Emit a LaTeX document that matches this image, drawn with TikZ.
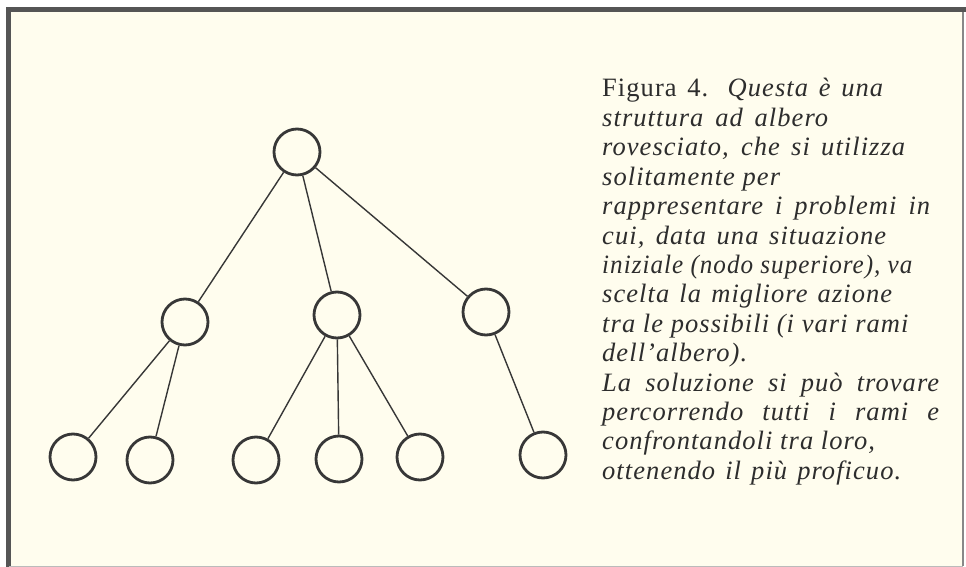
\documentclass[tikz,border=0pt]{standalone}
\usepackage{fontspec}
\usepackage{graphicx}
\setmainfont{Liberation Serif}
\definecolor{cream}{RGB}{255,253,238}
\definecolor{ink}{RGB}{55,55,55}
\definecolor{textc}{RGB}{45,45,45}
\definecolor{framec}{RGB}{85,85,85}
\begin{document}
\begin{tikzpicture}[x=1pt,y=-1pt,
  nd/.style={circle,draw=ink,line width=2.8pt,minimum size=46pt,inner sep=0pt,fill=cream},
  ln/.style={draw=ink,line width=1.4pt},
  tl/.style={anchor=base west,inner sep=0pt,text=textc,font=\fontsize{26.5}{29}\selectfont\itshape\addfontfeatures{LetterSpace=4}}]
\useasboundingbox (0,0) rectangle (966,567);
\fill[white] (0,0) rectangle (966,567);
\fill[cream] (9,10) rectangle (963,566);
\draw[framec,line width=5pt] (8.5,567) -- (8.5,9.5) -- (966,9.5);
\draw[framec!70,line width=1.5pt] (963,12) -- (963,566);
\draw[framec!40,line width=1pt] (9,566) -- (963,566);
% nodes
\node[nd] (r) at (297,152) {};
\node[nd] (a) at (185,322) {};
\node[nd] (b) at (337,315) {};
\node[nd] (c) at (486,312) {};
\node[nd] (a1) at (73,457) {};
\node[nd] (a2) at (150,460) {};
\node[nd] (b1) at (256,460) {};
\node[nd] (b2) at (339,459) {};
\node[nd] (b3) at (420,457) {};
\node[nd] (c1) at (543,455) {};
\foreach \p/\q in {r/a,r/b,r/c,a/a1,a/a2,b/b1,b/b2,b/b3,c/c1}
  \draw[ln] (\p) -- (\q);
% text
\node[tl] (t1) at (602,97) {\makebox[281pt][s]{\upshape Figura 4. \itshape Questa è una}};
\node[tl] (t2) at (602,126.4) {\makebox[226pt][s]{struttura ad albero}};
\node[tl] (t3) at (602,155.8) {\makebox[303pt][s]{rovesciato, che si utilizza}};
\node[tl] (t4) at (602,185.2) {solitamente per};
\node[tl] (t5) at (602,214.6) {\makebox[328pt][s]{rappresentare i problemi in}};
\node[tl] (t6) at (602,244) {\makebox[284pt][s]{cui, data una situazione}};
\node[tl] (t7) at (602,273.4) {\scalebox{0.948}[1]{iniziale (nodo superiore), va}};
\node[tl] (t8) at (602,302.8) {\makebox[290pt][s]{scelta la migliore azione}};
\node[tl] (t9) at (602,332.2) {tra le possibili (i vari rami};
\node[tl] (t10) at (602,361.6) {dell'albero).};
\node[tl] (t11) at (602,391) {\makebox[337pt][s]{La soluzione si può trovare}};
\node[tl] (t12) at (602,420.4) {\makebox[337pt][s]{percorrendo tutti i rami e}};
\node[tl] (t13) at (602,449.8) {confrontandoli tra loro,};
\node[tl] (t14) at (602,479.2) {\makebox[299pt][s]{ottenendo il più proficuo.}};
\end{tikzpicture}
\end{document}
